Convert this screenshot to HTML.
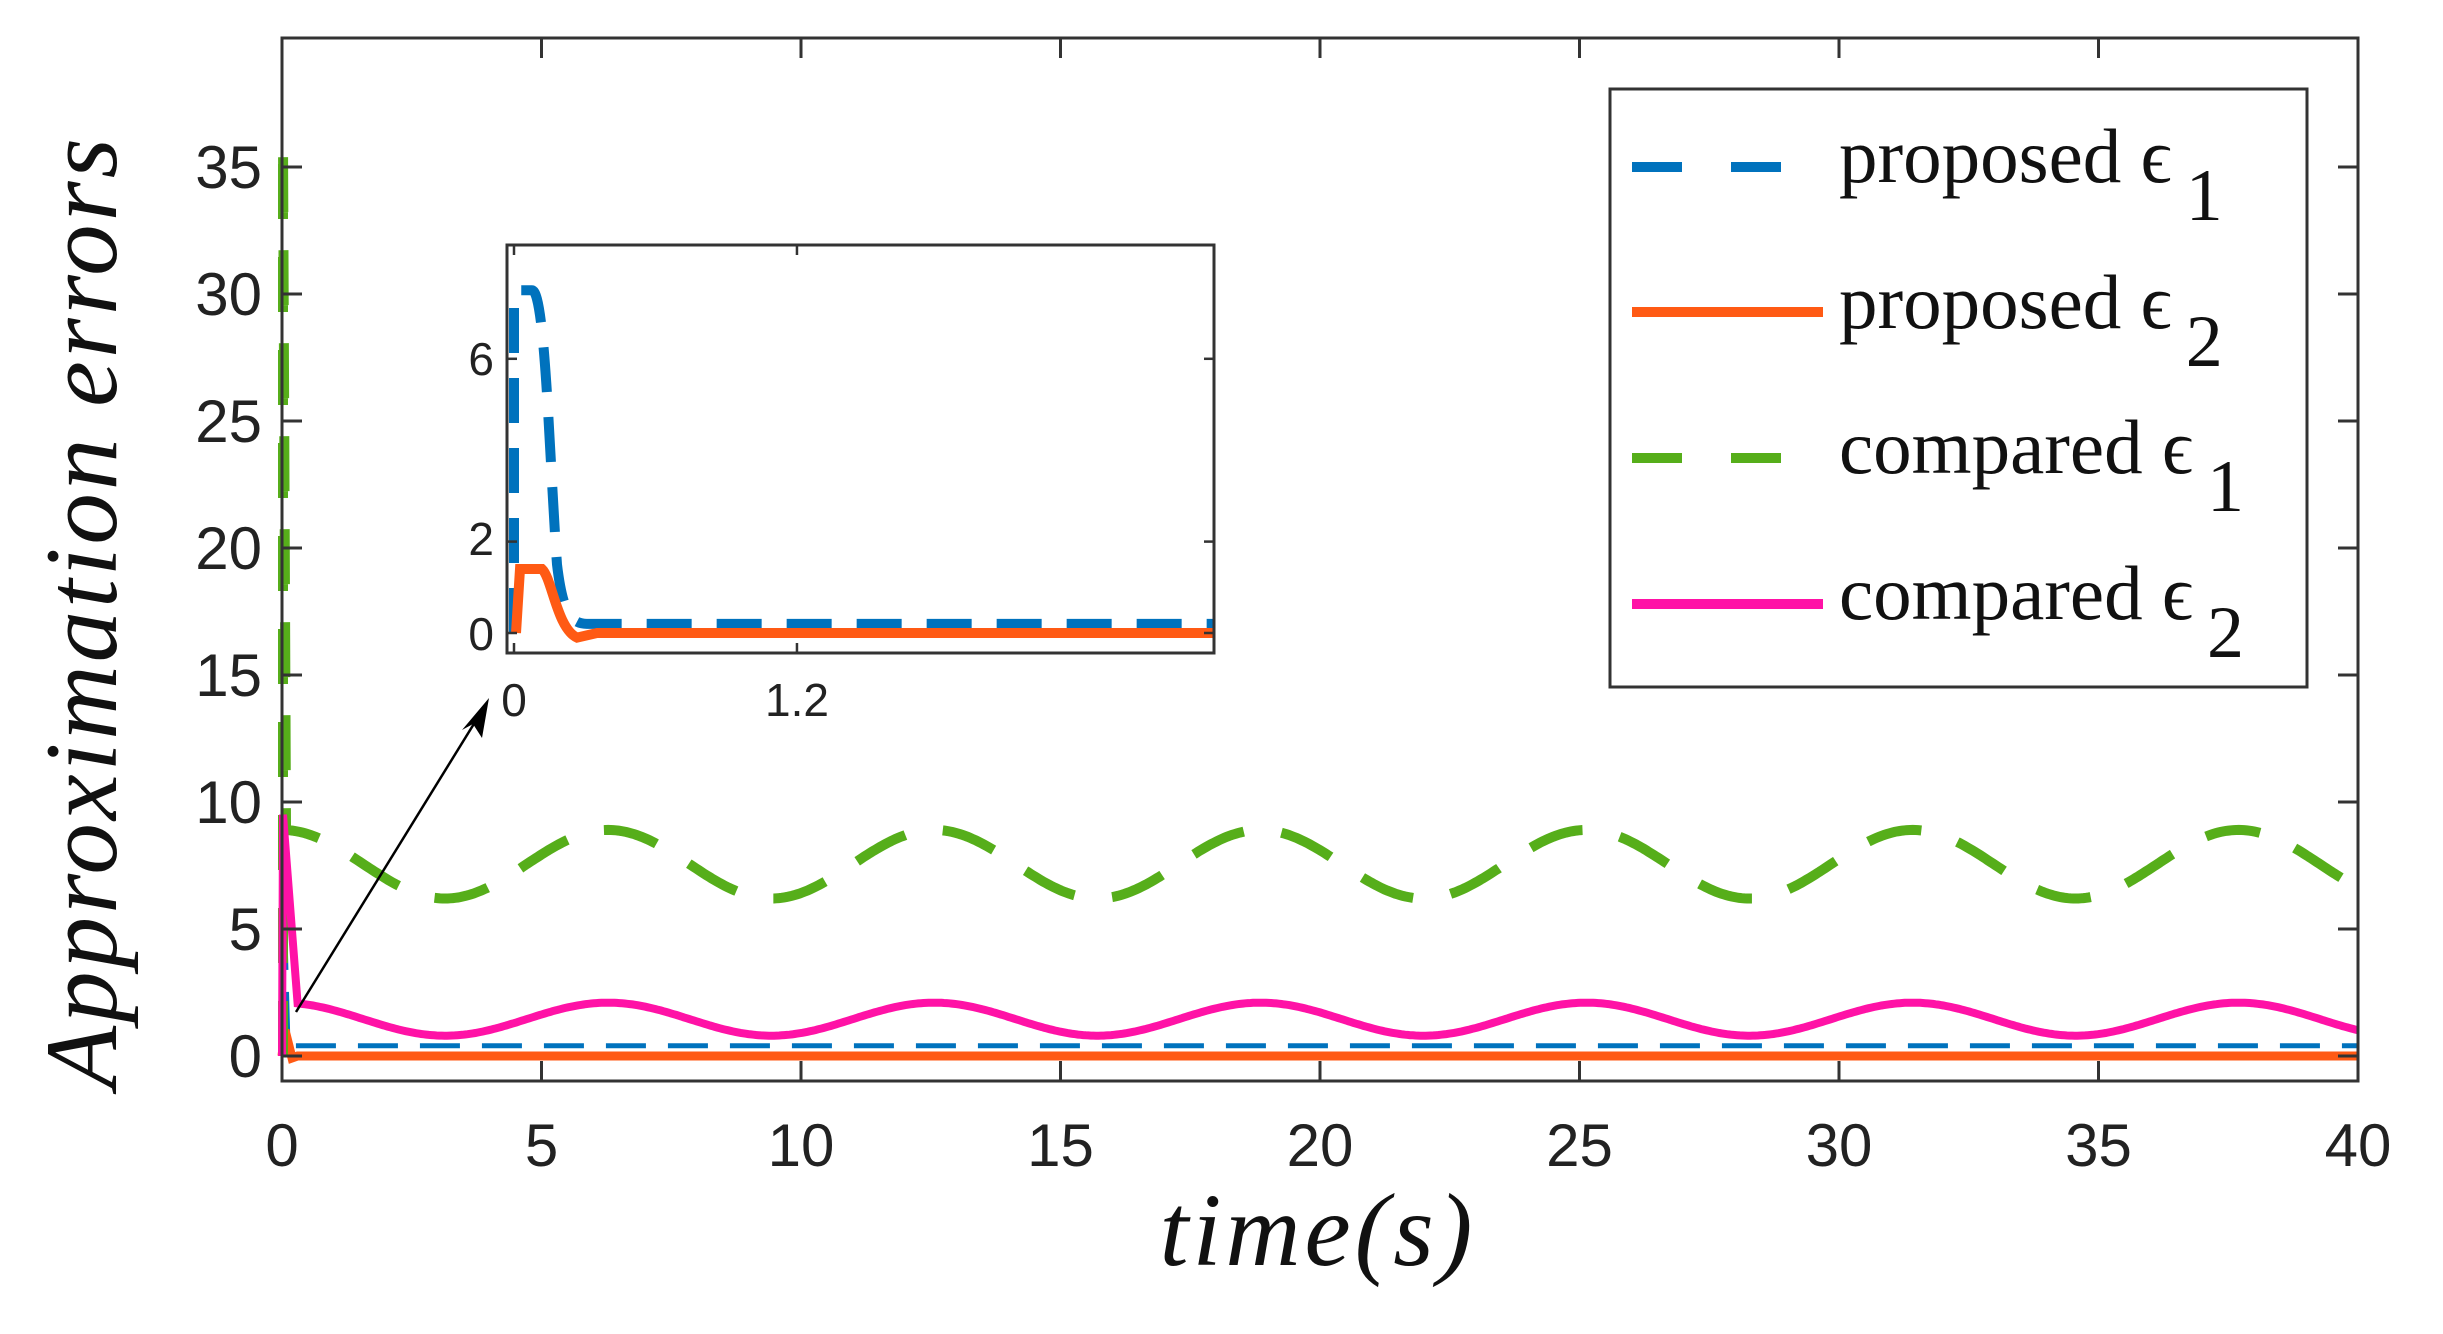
<!DOCTYPE html>
<html><head><meta charset="utf-8"><style>
html,body{margin:0;padding:0;background:#fff;}
svg{display:block;}
</style></head><body>
<svg id="s" width="2443" height="1334" xmlns="http://www.w3.org/2000/svg" font-family="Liberation Sans, sans-serif">
<rect width="2443" height="1334" fill="#fff"/>
<g id="main"></g>
<rect x="282" y="38" width="2076" height="1043" fill="none" stroke="#333" stroke-width="3"/>
<g id="ticks" stroke="#333" stroke-width="3"></g>
<g id="labels" font-size="60" fill="#222"></g>
<text x="1318" y="1265" font-family="Liberation Serif, serif" font-style="italic" font-size="104" text-anchor="middle" fill="#111" letter-spacing="4">time(s)</text>
<text transform="translate(116,612) rotate(-90)" font-family="Liberation Serif, serif" font-style="italic" font-size="103" text-anchor="middle" fill="#111" letter-spacing="3">Approximation errors</text>
<!-- arrow -->
<line x1="296" y1="1012" x2="480" y2="714" stroke="#000" stroke-width="2.5"/>
<polygon points="489,698 462,730 473,724 482,738" fill="#000"/>
<!-- inset -->
<rect x="507" y="245" width="707" height="408" fill="#fff"/>
<g id="inset"></g>
<rect x="507" y="245" width="707" height="408" fill="none" stroke="#333" stroke-width="3"/>
<g id="iticks" stroke="#333" stroke-width="2.5"></g>
<g font-size="46" fill="#222">
<text x="494" y="375" text-anchor="end">6</text>
<text x="494" y="555" text-anchor="end">2</text>
<text x="494" y="650" text-anchor="end">0</text>
<text x="514" y="716" text-anchor="middle">0</text>
<text x="797" y="716" text-anchor="middle">1.2</text>
</g>
<!-- legend -->
<rect x="1610" y="89" width="697" height="598" fill="#fff" stroke="#333" stroke-width="3"/>
<line x1="1632" y1="167" x2="1781" y2="167" stroke="#0072BD" stroke-width="10" stroke-dasharray="50 49"/>
<line x1="1632" y1="312" x2="1823" y2="312" stroke="#FF5A14" stroke-width="10"/>
<line x1="1632" y1="458" x2="1781" y2="458" stroke="#56AE1A" stroke-width="10" stroke-dasharray="50 49"/>
<line x1="1632" y1="604" x2="1823" y2="604" stroke="#FF12A6" stroke-width="10"/>
<g font-family="Liberation Serif, serif" font-size="77" fill="#111">
<text x="1839" y="182">proposed ϵ<tspan font-size="74" dy="38" dx="14">1</tspan></text>
<text x="1839" y="328">proposed ϵ<tspan font-size="74" dy="38" dx="14">2</tspan></text>
<text x="1839" y="473">compared ϵ<tspan font-size="74" dy="38" dx="14">1</tspan></text>
<text x="1839" y="619">compared ϵ<tspan font-size="74" dy="38" dx="14">2</tspan></text>
</g>
</svg>
<script>
var NS="http://www.w3.org/2000/svg";
function el(p,n,a){var e=document.createElementNS(NS,n);for(var k in a)e.setAttribute(k,a[k]);p.appendChild(e);return e;}
var X=function(t){return 282+t*51.9},Y=function(v){return 1056-v*25.4};
var g=document.getElementById('main');
function path(f,t0,t1,n,Xf,Yf){var d="";for(var i=0;i<=n;i++){var t=t0+(t1-t0)*i/n;d+=(i?"L":"M")+Xf(t).toFixed(1)+","+Yf(f(t)).toFixed(1);}return d;}
el(g,'path',{d:"M282,1056 L284,900 L288,1046 "+path(function(t){return 0.4},0.2,40,10,X,Y).replace('M','L'),fill:'none',stroke:'#0072BD','stroke-width':5,'stroke-dasharray':'40 22'});
el(g,'path',{d:"M282,1056 L285,1030 L292,1058 "+path(function(t){return 0},0.3,40,10,X,Y).replace('M','L'),fill:'none',stroke:'#FF5A14','stroke-width':9});
el(g,'path',{d:"M283,1056 L283,"+Y(36)+" L286,"+Y(9)+" "+path(function(t){return 7.55+1.35*Math.cos(t)},0.1,40,800,X,Y).replace('M','L'),fill:'none',stroke:'#56AE1A','stroke-width':10,'stroke-dasharray':'55 38'});
el(g,'path',{d:"M282,1056 L283,"+Y(9.5)+" "+path(function(t){return 1.45+0.65*Math.cos(t)},0.3,40,800,X,Y).replace('M','L'),fill:'none',stroke:'#FF12A6','stroke-width':8});
var tk=document.getElementById('ticks'),lb=document.getElementById('labels');
for(var v=0;v<=35;v+=5){var y=Y(v);el(tk,'line',{x1:282,y1:y,x2:302,y2:y});el(tk,'line',{x1:2338,y1:y,x2:2358,y2:y});
 var t=el(lb,'text',{x:262,y:y+21,'text-anchor':'end'});t.textContent=v;}
for(var s=0;s<=40;s+=5){var x=X(s);el(tk,'line',{x1:x,y1:1081,x2:x,y2:1061});el(tk,'line',{x1:x,y1:38,x2:x,y2:58});
 var t=el(lb,'text',{x:x,y:1166,'text-anchor':'middle'});t.textContent=s;}
var IX=function(t){return 514+t*235.8},IY=function(v){return 633-v*45.7};
var ig=document.getElementById('inset');
el(ig,'path',{d:"M514,633 L514,"+IY(7.5)+" L532,"+IY(7.5)+" C545,"+IY(7.5)+" 549,"+IY(4)+" 557,"+IY(1.5)+" C563,"+IY(0.4)+" 572,"+IY(0.2)+" 587,"+IY(0.2)+" L1214,"+IY(0.2),fill:'none',stroke:'#0072BD','stroke-width':10,'stroke-dasharray':'45 25'});
el(ig,'path',{d:"M516,"+IY(0)+" L520,"+IY(1.4)+" L542,"+IY(1.4)+" C552,"+IY(1.2)+" 557,"+IY(0.1)+" 577,"+IY(-0.1)+" L597,"+IY(0)+" L1214,"+IY(0),fill:'none',stroke:'#FF5A14','stroke-width':10});
var it=document.getElementById('iticks');
[0,2,6].forEach(function(v){var y=IY(v);el(it,'line',{x1:507,y1:y,x2:517,y2:y});el(it,'line',{x1:1204,y1:y,x2:1214,y2:y});});
[0,1.2].forEach(function(s){var x=IX(s);el(it,'line',{x1:x,y1:653,x2:x,y2:643});el(it,'line',{x1:x,y1:245,x2:x,y2:255});});
</script>
</body></html>
